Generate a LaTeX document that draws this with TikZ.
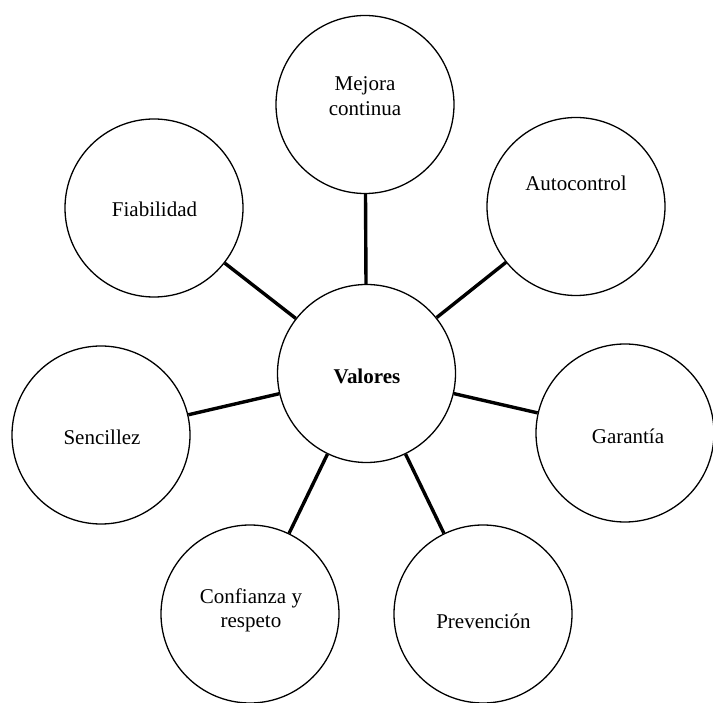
\documentclass[tikz,border=0pt]{standalone}
\usepackage{fontspec}
\setmainfont{Liberation Serif}
\begin{document}
\begin{tikzpicture}[x=1pt,y=-1pt,
  bubble/.style={circle,draw=black,line width=1.3pt,fill=white,minimum size=178pt,inner sep=0pt},
  lbl/.style={font=\fontsize{21}{25}\selectfont,anchor=base,inner sep=0pt},
  spoke/.style={line width=3.4pt,draw=black}]
\useasboundingbox (0,0) rectangle (713,703);
\node[bubble] (v) at (366.5,373.5) {};
\node[bubble] (m) at (365,104.5) {};
\node[bubble] (a) at (576,206.5) {};
\node[bubble] (f) at (154,208) {};
\node[bubble] (s) at (101,435) {};
\node[bubble] (g) at (625,433) {};
\node[bubble] (c) at (250,614) {};
\node[bubble] (p) at (483,614) {};
\foreach \n in {m,a,f,s,g,c,p} \draw[spoke] (v) -- (\n);
\node[lbl,font=\fontsize{21}{25}\selectfont\bfseries] (tv) at (367,384) {Valores};
\node[lbl] (tm1) at (365,91) {Mejora};
\node[lbl] (tm2) at (365,116) {continua};
\node[lbl] (ta) at (576,191) {Autocontrol};
\node[lbl] (tf) at (154.5,217) {Fiabilidad};
\node[lbl] (ts) at (102,445) {Sencillez};
\node[lbl] (tg) at (628,444) {Garantía};
\node[lbl] (tc1) at (251,603) {Confianza y};
\node[lbl] (tc2) at (251,627) {respeto};
\node[lbl] (tp) at (483.5,628) {Prevención};
\end{tikzpicture}
\end{document}
